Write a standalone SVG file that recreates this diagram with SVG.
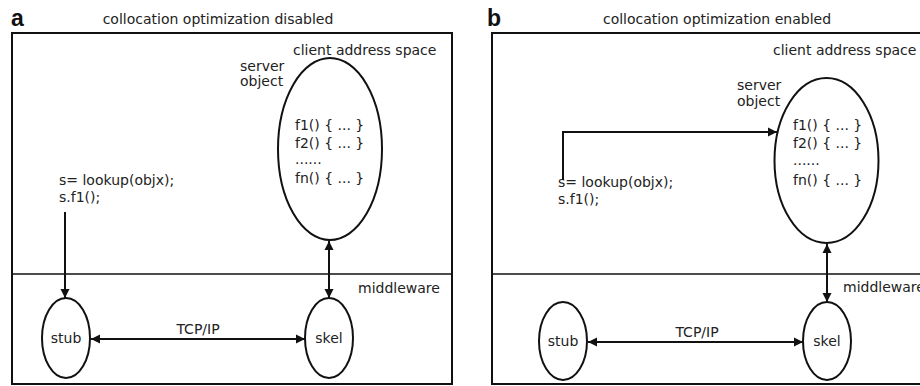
<svg xmlns="http://www.w3.org/2000/svg" width="920" height="386" viewBox="0 0 920 386">
  <style>
    .frame { fill: none; stroke: #111; stroke-width: 2; }
    .sep { fill: none; stroke: #111; stroke-width: 1.6; }
    .node { fill: #fff; stroke: #111; stroke-width: 2; }
    .edge { fill: none; stroke: #111; stroke-width: 2; }
    text { font-family: "DejaVu Sans", "Liberation Sans", sans-serif; font-size: 14px; fill: #222; }
    .tag { font-family: "Liberation Sans", Arial, sans-serif; font-weight: bold; font-size: 23px; fill: #111; }
    .mid { text-anchor: middle; }
  </style>
  <defs>
    <marker id="head" viewBox="0 0 10 10" refX="10" refY="5" markerWidth="9" markerHeight="10" markerUnits="userSpaceOnUse" orient="auto-start-reverse">
      <path d="M0,0 L10,5 L0,10 z" fill="#111"/>
    </marker>
  </defs>

  <!-- Panel a: collocation optimization disabled -->
  <g id="panel-a">
    <text class="tag" x="11" y="26">a</text>
    <text class="mid" x="218" y="24">collocation optimization disabled</text>
    <rect class="frame" x="12" y="33" width="440" height="351"/>
    <line class="sep" x1="12" y1="274" x2="452" y2="274"/>
    <text x="293" y="55">client address space</text>
    <text x="358" y="293">middleware</text>
    <text x="59" y="185">s= lookup(objx);</text>
    <text x="59" y="202">s.f1();</text>
  </g>

  <g id="a-server">
    <ellipse class="node" cx="330" cy="149" rx="52" ry="91"/>
    <text x="240" y="71">server</text>
    <text x="240" y="86">object</text>
    <text x="295" y="130">f1() { ... }</text>
    <text x="295" y="147.5">f2() { ... }</text>
    <text x="295" y="164">......</text>
    <text x="295" y="183">fn() { ... }</text>
  </g>
  <g id="a-stub">
    <ellipse class="node" cx="66" cy="338" rx="24" ry="40"/>
    <text class="mid" x="66" y="343">stub</text>
  </g>
  <g id="a-skel">
    <ellipse class="node" cx="329" cy="338" rx="24" ry="40"/>
    <text class="mid" x="329" y="343">skel</text>
  </g>
  <g id="a-connectors">
    <line class="edge" x1="65" y1="212" x2="65" y2="298" marker-end="url(#head)"/>
    <line class="edge" x1="329" y1="241" x2="329" y2="298" marker-start="url(#head)" marker-end="url(#head)"/>
    <line class="edge" x1="91" y1="339" x2="305" y2="339" marker-start="url(#head)" marker-end="url(#head)"/>
    <text class="mid" x="198" y="334">TCP/IP</text>
  </g>

  <!-- Panel b: collocation optimization enabled -->
  <g id="panel-b">
    <text class="tag" x="487" y="26">b</text>
    <text class="mid" x="717" y="24">collocation optimization enabled</text>
    <rect class="frame" x="492" y="33" width="450" height="351"/>
    <line class="sep" x1="492" y1="274" x2="942" y2="274"/>
    <text x="773" y="55">client address space</text>
    <text x="843" y="292">middleware</text>
    <text x="558" y="187">s= lookup(objx);</text>
    <text x="558" y="204">s.f1();</text>
  </g>

  <g id="b-server">
    <ellipse class="node" cx="826.5" cy="160.5" rx="52" ry="82.5"/>
    <text x="737" y="90">server</text>
    <text x="737" y="106">object</text>
    <text x="793" y="130">f1() { ... }</text>
    <text x="793" y="148">f2() { ... }</text>
    <text x="793" y="165">......</text>
    <text x="793" y="185">fn() { ... }</text>
  </g>
  <g id="b-stub">
    <ellipse class="node" cx="563" cy="341" rx="24" ry="39"/>
    <text class="mid" x="563" y="346">stub</text>
  </g>
  <g id="b-skel">
    <ellipse class="node" cx="827" cy="341" rx="24" ry="39"/>
    <text class="mid" x="827" y="346">skel</text>
  </g>
  <g id="b-connectors">
    <polyline class="edge" points="563,180 563,132 777,132" marker-end="url(#head)"/>
    <line class="edge" x1="827" y1="244" x2="827" y2="302" marker-start="url(#head)" marker-end="url(#head)"/>
    <line class="edge" x1="588" y1="342" x2="803" y2="342" marker-start="url(#head)" marker-end="url(#head)"/>
    <text class="mid" x="697" y="337">TCP/IP</text>
  </g>
</svg>
